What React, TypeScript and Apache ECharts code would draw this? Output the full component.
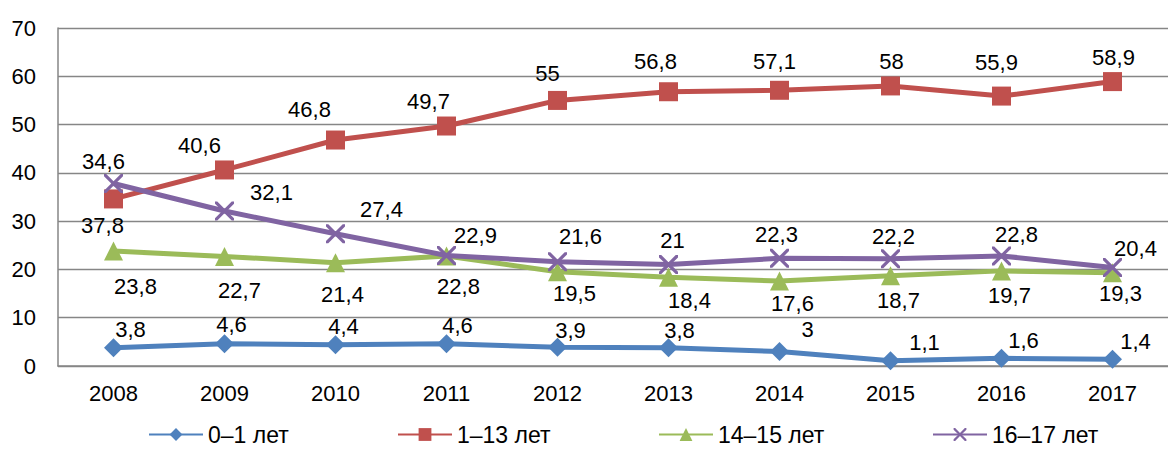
import React, { useEffect, useRef } from "react";
import * as echarts from "echarts";

const years = ["2008", "2009", "2010", "2011", "2012", "2013", "2014", "2015", "2016", "2017"];
const seriesNames = ["0–1 лет", "1–13 лет", "14–15 лет", "16–17 лет"];
const age0to1 = [3.8, 4.6, 4.4, 4.6, 3.9, 3.8, 3, 1.1, 1.6, 1.4];
const age1to13 = [34.6, 40.6, 46.8, 49.7, 55, 56.8, 57.1, 58, 55.9, 58.9];
const age14to15 = [23.8, 22.7, 21.4, 22.8, 19.5, 18.4, 17.6, 18.7, 19.7, 19.3];
const age16to17 = [37.8, 32.1, 27.4, 22.9, 21.6, 21, 22.3, 22.2, 22.8, 20.4];

// label placement (styling only)
const offBlue = [[17, -18], [7, -19], [8, -18], [11, -18], [13, -17], [11, -17], [28, -22], [34, -18], [22, -18], [23, -18]];
const offRed = [[-10, -37], [-25, -24], [-26, -31], [-18, -25], [-10, -27], [-13, -30], [-5, -29], [1, -24], [-5, -34], [1, -24]];
const offGreen = [[22, 35], [15, 34], [7, 32], [12, 31], [17, 22], [21, 23], [13, 22], [8, 25], [8, 25], [8, 21]];
const offPurple = [[-11, 42], [47, -19], [46, -24], [29, -20], [23, -25], [4, -24], [-3, -24], [3, -22], [15, -21], [23, -19]];

const colors = ["#4F81BD", "#C0504D", "#9BBB59", "#8064A2"];
const FONT = "'Liberation Sans', Arial, sans-serif";
const XPATH =
  "path://M0,0 L1.2,0 L5,3.8 L8.8,0 L10,0 L10,1.2 L6.2,5 L10,8.8 L10,10 L8.8,10 L5,6.2 L1.2,10 L0,10 L0,8.8 L3.8,5 L0,1.2 Z";

function fmt(v: number) {
  return String(v).replace(".", ",");
}

function buildData(values: number[], offs: number[][]) {
  return values.map((v, i) => ({ value: v, label: { offset: offs[i] } }));
}

export default function App() {
  const ref = useRef<HTMLDivElement>(null);
  useEffect(() => {
    document.body.style.margin = "0";
    if (!ref.current) return;
    const chart = echarts.init(ref.current, undefined, { renderer: "svg" });
    const label = {
      show: true,
      position: "inside",
      fontSize: 22,
      fontFamily: FONT,
      color: "#000",
      formatter: (p: any) => fmt(p.value),
    };
    const mk = (name: string, idx: number, values: number[], offs: number[][], symbol: string, size: number) => ({
      name,
      type: "line",
      data: buildData(values, offs),
      symbol,
      symbolSize: size,
      lineStyle: { width: 5, color: colors[idx] },
      itemStyle: { color: colors[idx] },
      label,
      z: 2 + idx,
    });
    const legendPos = [148, 397, 658, 932];
    chart.setOption({
      animation: false,
      color: colors,
      grid: { left: 58, right: -7, top: 28, bottom: 84, containLabel: false },
      legend: seriesNames.map((n, i) => ({
        data: [n],
        left: legendPos[i],
        top: 423,
        width: 220,
        padding: 0,
        itemWidth: 54,
        itemHeight: 16,
        itemGap: 0,
        textStyle: { fontSize: 23, fontFamily: FONT, color: "#000" },
      })),
      xAxis: {
        type: "category",
        data: years,
        boundaryGap: true,
        axisLine: { lineStyle: { color: "#868686", width: 1.5 } },
        axisTick: { show: false },
        axisLabel: { fontSize: 22, fontFamily: FONT, color: "#000", margin: 16 },
      },
      yAxis: {
        type: "value",
        min: 0,
        max: 70,
        interval: 10,
        axisLine: { show: true, lineStyle: { color: "#868686", width: 1.5 } },
        axisTick: { show: false },
        splitLine: { lineStyle: { color: "#868686", width: 1.3 } },
        axisLabel: { fontSize: 22, fontFamily: FONT, color: "#000", margin: 22 },
      },
      series: [
        mk(seriesNames[0], 0, age0to1, offBlue, "diamond", 19),
        mk(seriesNames[1], 1, age1to13, offRed, "rect", 19),
        mk(seriesNames[2], 2, age14to15, offGreen, "triangle", 19),
        mk(seriesNames[3], 3, age16to17, offPurple, XPATH, 19),
      ],
    });
    return () => chart.dispose();
  }, []);
  return <div ref={ref} style={{ width: 1168, height: 450 }} />;
}
